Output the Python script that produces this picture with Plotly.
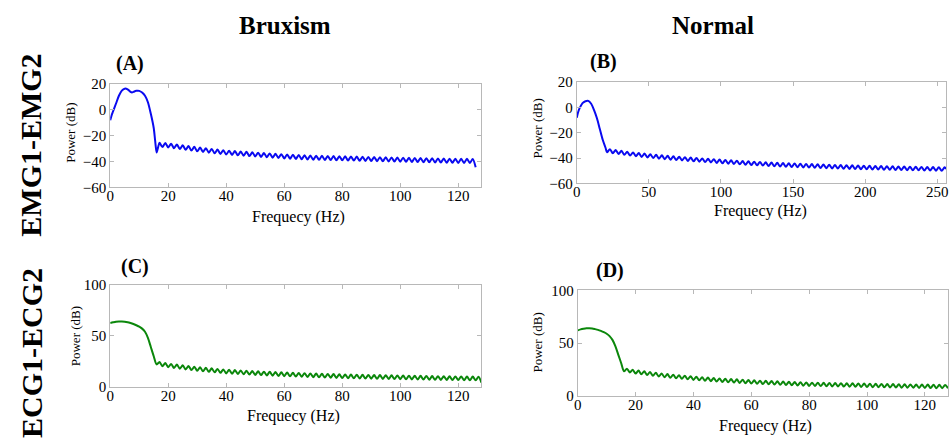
import plotly.graph_objects as go

# ---------------------------------------------------------------------------
# Power spectra (dB) of the differential channels, Bruxism vs Normal
# ---------------------------------------------------------------------------

# (A) EMG1-EMG2, bruxism subject
emg_brux_freq = [0, 0.5, 1, 2, 3, 4, 5, 6, 7, 7.5, 8, 9, 10, 11, 12, 13, 14, 15, 15.5, 16, 16.5] \
    + list(range(17, 129))
emg_brux_power = [
    -8, -4, -1, 5, 11, 15, 16.5, 16, 14, 13.5, 14, 14.8, 14.8, 13.5, 11, 6, -3, -14, -24, -33, -29,
    -25.5, -28.8, -25.7, -29.1, -26.2, -29.7, -26.8, -30.3, -27.4, -30.9,
    -28.0, -31.5, -28.6, -32.1, -29.2, -32.6, -29.7, -33.1, -30.2, -33.6,
    -30.7, -34.1, -31.2, -34.6, -31.6, -34.9, -31.9, -35.2, -32.2, -35.5,
    -32.5, -35.8, -32.8, -36.1, -33.1, -36.4, -33.4, -36.7, -33.7, -37.0,
    -34.0, -37.3, -34.3, -37.6, -34.5, -37.8, -34.7, -38.0, -34.9, -38.2,
    -35.1, -38.4, -35.3, -38.6, -35.5, -38.7, -35.6, -38.8, -35.7, -38.9,
    -35.8, -39.0, -35.9, -39.1, -36.0, -39.2, -36.1, -39.3, -36.2, -39.4,
    -36.3, -39.5, -36.4, -39.6, -36.5, -39.7, -36.6, -39.8, -36.7, -39.9,
    -36.8, -40.0, -36.9, -40.1, -37.0, -40.2, -37.1, -40.3, -37.2, -40.4,
    -37.3, -40.5, -37.4, -40.6, -37.5, -40.7, -37.6, -40.8, -37.7, -40.9,
    -37.8, -41.0, -37.9, -41.1, -37.9, -41.1, -37.9, -41.1, -38.0,
    -44.5,
]

# (B) EMG1-EMG2, normal subject
emg_norm_freq = [0, 1, 2, 4, 6, 8, 10, 12, 14, 16, 18, 20] + list(range(21, 256, 2)) + [256]
emg_norm_power = [
    -8, -3.5, -0.5, 3.5, 5, 5.3, 3, -2, -8.5, -17, -25.5, -32,
    -35.4, -32.9, -36.1, -33.6, -36.7, -34.2, -37.4, -34.9, -38.0, -35.5,
    -38.5, -36.0, -39.0, -36.4, -39.5, -36.9, -39.9, -37.4, -40.4, -37.8,
    -40.8, -38.2, -41.2, -38.5, -41.5, -38.9, -41.8, -39.2, -42.2, -39.5,
    -42.5, -39.8, -42.8, -40.2, -43.1, -40.5, -43.4, -40.8, -43.8, -41.1,
    -44.1, -41.4, -44.4, -41.7, -44.6, -42.0, -44.9, -42.3, -45.2, -42.5,
    -45.5, -42.8, -45.7, -43.0, -45.9, -43.3, -46.2, -43.5, -46.4, -43.7,
    -46.6, -43.9, -46.8, -44.1, -47.0, -44.2, -47.1, -44.4, -47.3, -44.6,
    -47.4, -44.7, -47.6, -44.9, -47.8, -45.0, -47.9, -45.2, -48.1, -45.4,
    -48.2, -45.5, -48.4, -45.6, -48.5, -45.7, -48.6, -45.9, -48.7, -46.0,
    -48.8, -46.1, -48.9, -46.2, -49.0, -46.3, -49.1, -46.4, -49.2, -46.5,
    -49.3, -46.6, -49.4, -46.6, -49.5, -46.7, -49.6, -46.8, -49.6, -46.9,
    -49.7, -47.0, -49.8, -47.0, -49.9, -47.1, -50.0, -47.2,
    -48.5,
]

# (C) ECG1-ECG2, bruxism subject
ecg_brux_freq = list(range(0, 129))
ecg_brux_power = [
    62.5, 63.2, 63.8, 64, 64, 63.8, 63.3, 62.5, 61.5, 60.3, 59, 57, 54, 48, 39, 30, 22,
    24.3, 20.2, 23.3, 19.2, 22.5, 18.5, 21.8, 17.8, 21.1, 17.1,
    20.4, 16.4, 19.7, 15.7, 19.1, 15.2, 18.6, 14.7, 18.1, 14.2,
    17.6, 13.7, 17.1, 13.2, 16.7, 12.9, 16.4, 12.6, 16.1, 12.3,
    15.8, 12.0, 15.5, 11.7, 15.2, 11.5, 14.9, 11.2, 14.7, 11.0,
    14.5, 10.7, 14.2, 10.5, 14.0, 10.3, 13.8, 10.1, 13.6, 9.9,
    13.4, 9.7, 13.2, 9.5, 13.0, 9.3, 12.8, 9.1, 12.7, 9.0,
    12.5, 8.8, 12.3, 8.6, 12.1, 8.5, 12.0, 8.4, 11.9, 8.2,
    11.8, 8.1, 11.7, 8.0, 11.6, 7.9, 11.5, 7.8, 11.4, 7.7,
    11.3, 7.6, 11.2, 7.5, 11.1, 7.4, 11.0, 7.3, 10.9, 7.2,
    10.8, 7.1, 10.7, 7.0, 10.6, 6.9, 10.5, 6.8, 10.4, 6.8,
    10.3, 6.7, 10.2, 6.6, 10.2, 6.5, 10.1, 6.5, 10.1, 6.4,
    10.0, 4.0,
]

# (D) ECG1-ECG2, normal subject
ecg_norm_freq = list(range(0, 129))
ecg_norm_power = [
    62, 63, 63.6, 64, 64, 63.8, 63.2, 62.5, 61.5, 60.3, 58.8, 56.5, 53, 47, 39, 31, 23,
    25.6, 21.9, 24.6, 20.9, 23.8, 20.2, 23.1, 19.5, 22.4, 18.8,
    21.7, 18.1, 21.0, 17.4, 20.4, 16.9, 19.9, 16.4, 19.4, 15.9,
    18.9, 15.4, 18.4, 14.9, 17.9, 14.5, 17.5, 14.1, 17.1, 13.7,
    16.7, 13.3, 16.3, 12.9, 16.0, 12.6, 15.7, 12.3, 15.4, 12.0,
    15.1, 11.7, 14.8, 11.4, 14.5, 11.2, 14.2, 10.9, 14.0, 10.7,
    13.8, 10.4, 13.5, 10.2, 13.3, 10.0, 13.1, 9.8, 12.9, 9.6,
    12.7, 9.4, 12.5, 9.2, 12.3, 9.1, 12.2, 9.0, 12.1, 8.8,
    12.0, 8.7, 11.9, 8.6, 11.8, 8.5, 11.7, 8.4, 11.6, 8.3,
    11.5, 8.2, 11.4, 8.1, 11.3, 8.0, 11.2, 7.9, 11.1, 7.8,
    11.0, 7.7, 10.9, 7.6, 10.8, 7.5, 10.7, 7.4, 10.6, 7.4,
    10.5, 7.3, 10.4, 7.2, 10.4, 7.1, 10.3, 7.0, 10.2, 7.0,
    10.1, 7.0,
]

# Axis tick values
db_ticks_emg = [-60, -40, -20, 0, 20]
db_ticks_ecg = [0, 50, 100]
hz_ticks_128 = [0, 20, 40, 60, 80, 100, 120]
hz_ticks_256 = [0, 50, 100, 150, 200, 250]

# Text
col_titles = ["Bruxism", "Normal"]
row_titles = ["EMG1-EMG2", "ECG1-ECG2"]
panel_tags = ["(A)", "(B)", "(C)", "(D)"]
y_title = "Power (dB)"
x_title = "Frequecy (Hz)"

# ---------------------------------------------------------------------------
W, H = 951, 445
FONT = "Liberation Serif"
BLUE = "#0a0af0"
GREEN = "#0b870b"
FRAME = "#b8b8b8"


def px(x):
    return x / W


def py(y):
    return 1 - y / H


# plot boxes in pixels: left, top, right, bottom
boxes = {
    "A": (107, 79, 481, 186),
    "B": (577, 77, 949, 182),
    "C": (107, 287, 481, 393),
    "D": (578, 293, 951, 402),
}

panels = [
    ("A", emg_brux_freq, emg_brux_power, BLUE, [0, 128], hz_ticks_128, [-60, 20], db_ticks_emg),
    ("B", emg_norm_freq, emg_norm_power, BLUE, [0, 256], hz_ticks_256, [-60, 20], db_ticks_emg),
    ("C", ecg_brux_freq, ecg_brux_power, GREEN, [0, 128], hz_ticks_128, [0, 100], db_ticks_ecg),
    ("D", ecg_norm_freq, ecg_norm_power, GREEN, [0, 128], hz_ticks_128, [0, 100], db_ticks_ecg),
]

fig = go.Figure()
layout = {}
for i, (key, fx, fy, color, xr, xt, yr, yt) in enumerate(panels, start=1):
    sfx = "" if i == 1 else str(i)
    fig.add_trace(go.Scatter(
        x=fx, y=fy, mode="lines",
        line=dict(color=color, width=2, shape="spline", smoothing=0.8),
        xaxis="x" + sfx, yaxis="y" + sfx, showlegend=False, hoverinfo="x+y",
    ))
    l, t, r, b = boxes[key]
    common = dict(
        showline=True, linecolor=FRAME, linewidth=1, mirror="ticks",
        ticks="inside", ticklen=4, tickcolor=FRAME, tickwidth=1,
        showgrid=False, zeroline=False,
        tickfont=dict(family=FONT, size=15, color="black"),
    )
    layout["xaxis" + sfx] = dict(
        domain=[px(l), px(r)], range=xr, tickvals=xt, anchor="y" + sfx,
        ticklabelstandoff=-5, **common,
    )
    layout["yaxis" + sfx] = dict(
        domain=[py(b), py(t)], range=yr, tickvals=yt, anchor="x" + sfx,
        ticklabelstandoff=0, **common,
    )

fig.update_layout(
    width=W, height=H,
    margin=dict(l=0, r=0, t=0, b=0),
    paper_bgcolor="white", plot_bgcolor="white",
    font=dict(family=FONT, color="black"),
    **layout,
)

ann = []
# column titles
for txt, cx in zip(col_titles, [283, 714]):
    ann.append(dict(x=px(cx), y=py(18), text=f"<b>{txt}</b>",
                    font=dict(family=FONT, size=25, color="black")))
# row titles
for txt, cy in zip(row_titles, [142, 358]):
    ann.append(dict(x=px(27), y=py(cy), text=f"<b>{txt}</b>", textangle=-90,
                    font=dict(family=FONT, size=30, color="black")))
# panel tags
for txt, (cx, cy) in zip(panel_tags, [(127, 58), (604, 55), (132, 268), (610, 272)]):
    ann.append(dict(x=px(cx), y=py(cy), text=f"<b>{txt}</b>",
                    font=dict(family=FONT, size=20, color="black")))
# axis titles
for cx, cy in [(67, 130), (537, 125), (72, 340), (537, 347)]:
    ann.append(dict(x=px(cx), y=py(cy), text=y_title, textangle=-90,
                    font=dict(family=FONT, size=13, color="black")))
for cx, cy in [(297, 217), (762, 211), (292, 423), (767, 434)]:
    ann.append(dict(x=px(cx), y=py(cy), text=x_title,
                    font=dict(family=FONT, size=16, color="black")))

for a in ann:
    a.update(xref="paper", yref="paper", showarrow=False,
             xanchor="center", yanchor="middle")
fig.update_layout(annotations=ann)

fig.write_html("out.html")
